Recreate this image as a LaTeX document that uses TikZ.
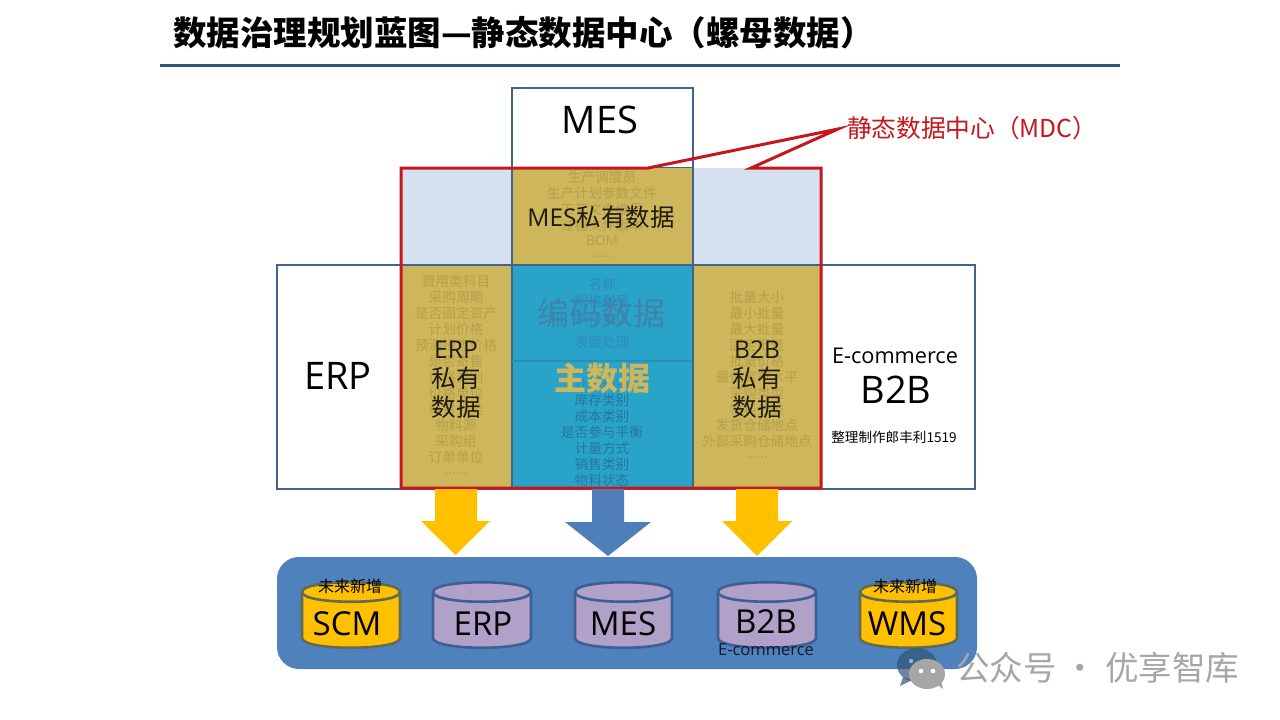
\documentclass[tikz,border=0pt]{standalone}
\usepackage{fontspec}
\setmainfont{Open Sans}
\newfontfamily\cjk{Noto Sans CJK SC}
\usetikzlibrary{shapes.geometric}
\definecolor{boxline}{HTML}{41648A}
\definecolor{lightblue}{HTML}{D6E1EF}
\definecolor{goldfill}{HTML}{CDB65B}
\definecolor{goldtext}{HTML}{B5A14B}
\definecolor{cyanfill}{HTML}{2AA3C8}
\definecolor{cyantext}{HTML}{2C8CBE}
\definecolor{redline}{HTML}{C8161D}
\definecolor{amber}{HTML}{FFC000}
\definecolor{midblue}{HTML}{4F81BD}
\definecolor{arrowblue}{HTML}{4F7FBA}
\definecolor{purplefill}{HTML}{B1A0C7}
\definecolor{purpleline}{HTML}{3C5F94}
\definecolor{amberline}{HTML}{5F6B55}
\definecolor{titleline}{HTML}{2F5478}
\definecolor{wm}{HTML}{A6A6A6}
\newcommand{\fs}[1]{\fontsize{#1}{#1}\selectfont}
\tikzset{
  x=1pt,y=-1pt,
  lbl/.style={inner sep=0pt,outer sep=0pt,anchor=center,align=center},
  hidg/.style={lbl,text=goldtext,font=\cjk\fs{13.7}},
  hidc/.style={lbl,text=cyantext,font=\cjk\fs{13.7}},
  big/.style={lbl,text=black,font=\fs{38}},
  pvt/.style={lbl,text=black!85!goldfill,font=\cjk\fs{24.5},align=center},
  panel/.style={fill=white,draw=boxline,line width=2.5pt},
  cyl/.style={line width=2.6pt},
  note/.style={lbl,text=black,font=\cjk\fs{16}},
  dblabel/.style={lbl,text=black,font=\fs{33}},
}
\newcommand{\dbcyl}[6]{% x0 x1 y0 y1 fill line
  \draw[cyl,fill=#5,draw=#6] (#1,#3+10)
     -- (#1,#4-10) .. controls (#1,#4+3) and (#2,#4+3) .. (#2,#4-10)
     -- (#2,#3+10) .. controls (#2,#3-3) and (#1,#3-3) .. (#1,#3+10) -- cycle;
  \draw[cyl,draw=#6] (#1,#3+10) .. controls (#1,#3+23) and (#2,#3+23) .. (#2,#3+10);
}
\begin{document}
\begin{tikzpicture}
\useasboundingbox[fill=white] (0,0) rectangle (1280,720);
% title
\node[lbl,anchor=west,font=\cjk\bfseries\fs{33.5}] (title) at (173,33) {数据治理规划蓝图—静态数据中心（螺母数据）};
\fill[titleline] (160,63.5) rectangle (1120,67);
% panels
\draw[panel] (512,88) rectangle (693,168);
\draw[panel] (277,265) rectangle (975,489);
\fill[lightblue] (401,168) rectangle (821,265);
\fill[goldfill] (512,168) rectangle (693,265);
\fill[goldfill] (401,265) rectangle (512,488);
\fill[goldfill] (693,265) rectangle (821,488);
\fill[cyanfill] (512,265) rectangle (693,488);
\draw[boxline,line width=1.8pt] (512,168) -- (512,488) (693,168) -- (693,488) (401,265) -- (821,265);
\draw[color=cyantext,line width=2pt] (512,360.5) -- (692,360.5);
% hidden MES list
\node[hidg] (m1) at (602,177) {生产调度员};
\node[hidg] (m2) at (602,193) {生产计划参数文件};
\node[hidg] (m3) at (602,209) {工艺文件编号};
\node[hidg] (m4) at (602,225) {过程文件版本};
\node[hidg,font=\fs{13.7}] (m5) at (602,241) {BOM};
\node[hidg,font=\fs{13.7}] (m6) at (602,257) {......};
% hidden ERP list
\foreach \t/\y in {费用类科目/281,采购周期/297,是否固定资产/313,计划价格/329,预测销售价格/345,是否寄售/361,价格类别/377,价格单位/393,科目分类/409,物料源/425,采购组/441,订单单位/457}
  \node[hidg] at (456,\y) {\t};
\node[hidg,font=\fs{13.7}] (e13) at (456,474) {......};
% hidden B2B list
\foreach \t/\y in {批量大小/297,最小批量/313,最大批量/329,固定批量/345,批量价格/361,最低库存水平/377,采购类型/393,物料分类/409,发货仓储地点/425,外部采购仓储地点/441}
  \node[hidg] at (757,\y) {\t};
\node[hidg,font=\fs{13.7}] (b11) at (757,458) {......};
% hidden centre list
\foreach \t/\y in {名称/284,规格型号/301,物料单位/318,表面处理/342,计划类别/384}
  \node[hidc] at (602,\y) {\t};
\foreach \t/\y in {库存类别/400,成本类别/416,是否参与平衡/432,计量方式/448,销售类别/464,物料状态/480}
  \node[hidc,text=cyantext!85!black] at (602,\y) {\t};
% overlaid labels
\node[lbl,text=cyantext!80!purplefill!90!black,font=\cjk\fs{32}] (code) at (601,313) {编码数据};
\node[lbl,text=goldfill,font=\cjk\bfseries\fs{32}] (master) at (602,378) {主数据};
\node[lbl,text=black!85!goldfill] (mespvt) at (601,217) {{\fs{24.5}MES}{\cjk\fs{24.5}私有数据}};
\node[pvt] (erppvt) at (456,380) {{\fontspec{Open Sans}\fs{24.5}ERP}\\[4.5pt]私有\\[4.5pt]数据};
\node[pvt] (b2bpvt) at (757,380) {{\fontspec{Open Sans}\fs{24.5}B2B}\\[4.5pt]私有\\[4.5pt]数据};
\node[big] (mes) at (600,120) {MES};
\node[big] (erp) at (338,376) {ERP};
\node[lbl,font=\fs{21.7}] (ecom) at (895,356) {E-commerce};
\node[big] (b2b) at (896,390) {B2B};
\node[note,font=\cjk\fs{13.6}] (maker) at (894,437) {整理制作郎丰利1519};
% red outline with callout
\draw[redline,line width=3pt,line join=miter] (401,168) -- (648,168) -- (838,129) -- (751,168) -- (821,168) -- (821,488) -- (401,488) -- cycle;
\node[lbl,anchor=west,text=redline,font=\cjk\fs{24.7}] (mdc) at (847,128) {静态数据中心（MDC）};
% arrows
\fill[amber] (435,489) -- (477,489) -- (477,521) -- (490,521) -- (455.5,555) -- (421,521) -- (435,521) -- cycle;
\fill[arrowblue] (592,489) -- (624,489) -- (624,522) -- (651,522) -- (608,556) -- (565,522) -- (592,522) -- cycle;
\fill[amber] (736,489) -- (778,489) -- (778,521) -- (792,521) -- (757,556) -- (722,521) -- (736,521) -- cycle;
% bottom band
\fill[midblue,rounded corners=22pt] (277,557) rectangle (977,669);
\dbcyl{302}{400}{582}{648}{amber}{amberline}
\dbcyl{433}{531}{582}{648}{purplefill}{purpleline}
\dbcyl{575}{672}{582}{648}{purplefill}{purpleline}
\dbcyl{718}{816}{582}{648}{purplefill}{purpleline}
\dbcyl{860}{957}{582}{648}{amber}{amberline}
\node[dblabel] (scm) at (347,624) {SCM};
\node[dblabel] (erpdb) at (483,624) {ERP};
\node[dblabel] (mesdb) at (623,624) {MES};
\node[dblabel] (b2bdb) at (766,622) {B2B};
\node[dblabel] (wmsdb) at (907,624) {WMS};
\node[note] (new1) at (350,586) {未来新增};
\node[note] (new2) at (905,586) {未来新增};
\node[lbl,text=black!80!midblue,font=\fs{16.5}] (ecomdb) at (766,650) {E-commerce};
% watermark
\fill[titleline,opacity=.7] (917,665) ellipse[x radius=20,y radius=17];
\fill[titleline,opacity=.7] (903,677) -- (900,686) -- (912,680) -- cycle;
\fill[white,opacity=.5] (911,661) circle (2.2) (924,661) circle (2.2);
\fill[wm] (927,674) ellipse[x radius=18,y radius=15];
\fill[wm] (936,684) -- (943,689) -- (941,680) -- cycle;
\fill[white] (921,671) circle (2.3) (933,671) circle (2.3);
\node[lbl,anchor=west,text=wm,font=\cjk\fs{33.5}] (wmark) at (956,668) {公众号 · 优享智库};
\end{tikzpicture}
\end{document}
